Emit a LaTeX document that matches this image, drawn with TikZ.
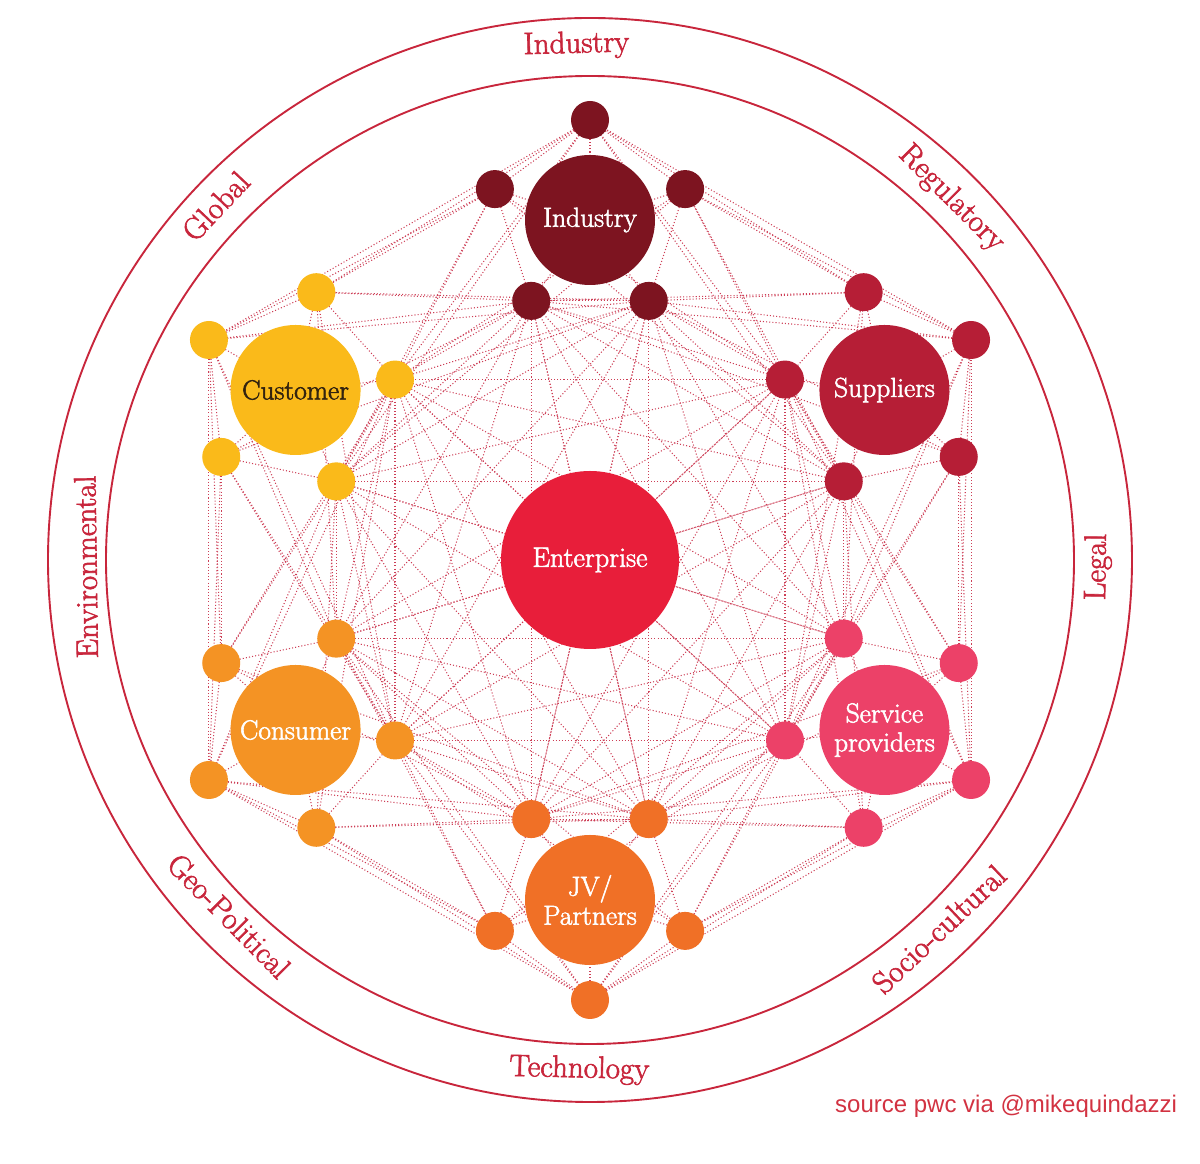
\documentclass[tikz,border=0pt]{standalone}
\usepackage{fontspec}
\newfontfamily\srcfont{Liberation Sans}
\newfontfamily\lblfont{Latin Modern Roman}[FakeBold=2]
\usetikzlibrary{calc}
\definecolor{ringred}{RGB}{200,38,60}
\definecolor{dotred}{RGB}{205,62,86}
\definecolor{srcred}{RGB}{210,50,65}
\definecolor{cInd}{RGB}{125,20,32}
\definecolor{cCus}{RGB}{250,186,26}
\definecolor{cCon}{RGB}{244,147,36}
\definecolor{cJV}{RGB}{240,112,38}
\definecolor{cSer}{RGB}{236,65,104}
\definecolor{cSup}{RGB}{182,30,54}
\definecolor{cEnt}{RGB}{232,30,58}
\definecolor{cusText}{RGB}{50,35,15}
\pgfdeclarelayer{bg}
\pgfsetlayers{bg,main}
\begin{document}
\begin{tikzpicture}[x=1pt,y=1pt,
  bigc/.style={circle, minimum size=130pt, inner sep=0pt, text=white, align=center, font=\lblfont\fontsize{27.5}{29}\selectfont},
  satc/.style={circle, minimum size=38pt, inner sep=0pt},
  ringlab/.style={text=ringred, font=\lblfont\fontsize{31}{31}\selectfont, inner sep=0pt},
  link/.style={draw=dotred, line width=1.05pt, dash pattern=on 1.05pt off 2.1pt},
  ring/.style={draw=ringred, line width=1.9pt}]
\useasboundingbox (0,0) rectangle (1200,1164);
\coordinate (E) at (590,604);
\draw[ring] (E) circle (542);
\draw[ring] (E) circle (484);
% central and cluster nodes
\node[bigc, fill=cEnt, minimum size=178pt, font=\lblfont\fontsize{28}{30}\selectfont] (ent) at (E) {Enterprise};
\node[bigc, fill=cInd] (ind) at ($(E)+(90:340)$) {Industry};
\node[bigc, fill=cCus, text=cusText] (cus) at ($(E)+(150:340)$) {Customer};
\node[bigc, fill=cCon] (con) at ($(E)+(210:340)$) {Consumer};
\node[bigc, fill=cJV] (jv) at ($(E)+(270:340)$) {JV/\\Partners};
\node[bigc, fill=cSer] (ser) at ($(E)+(330:340)$) {Service\\providers};
\node[bigc, fill=cSup] (sup) at ($(E)+(30:340)$) {Suppliers};
% satellites
\foreach \k/\nm/\col/\th in {0/ind/cInd/90, 1/cus/cCus/150, 2/con/cCon/210, 3/jv/cJV/270, 4/ser/cSer/330, 5/sup/cSup/30} {
  \foreach \j in {0,...,4} {
    \pgfmathsetmacro\ang{\th+72*\j}
    \node[satc, fill=\col] (s\k\j) at ($(\nm.center)+(\ang:100)$) {};
  }
}
% connectors
\begin{pgfonlayer}{bg}
\foreach \k/\nm in {0/ind,1/cus,2/con,3/jv,4/ser,5/sup} {
  \foreach \j in {0,...,4} {
    \pgfmathtruncatemacro\jn{mod(\j+1,5)}
    \draw[link] (s\k\j.center) -- (s\k\jn.center);
    \draw[link] (s\k\j.center) -- (\nm.center);
  }
}
\foreach \k in {0,...,5} {
  \pgfmathtruncatemacro\m{mod(\k+1,6)}
  \foreach \p/\q in {0/0,0/4,1/0,1/4} {\draw[link] (s\k\p.center) -- (s\m\q.center);}
  \foreach \p in {2,3} {\foreach \q in {0,...,4} {\draw[link] (s\k\p.center) -- (s\m\q.center);}}
  \foreach \p in {0,1,4} {\foreach \q in {2,3} {\draw[link] (s\k\p.center) -- (s\m\q.center);}}
}
\foreach \k in {0,...,5} {
  \pgfmathtruncatemacro\m{mod(\k+2,6)}
  \foreach \p in {2,3} {\foreach \q in {2,3} {\draw[link] (s\k\p.center) -- (s\m\q.center);}}
}
\foreach \k in {0,1,2} {
  \pgfmathtruncatemacro\m{\k+3}
  \foreach \p in {2,3} {\foreach \q in {2,3} {\draw[link] (s\k\p.center) -- (s\m\q.center);}}
}
\foreach \k in {0,...,5} {\foreach \p in {2,3} {\draw[link] (s\k\p.center) -- (ent.center);}}
\end{pgfonlayer}
% ring labels
\node[ringlab, rotate=1.5] (lInd) at ($(E)+(91.5:515)$) {Industry};
\node[ringlab, rotate=-45] (lReg) at ($(E)+(45:511)$) {Regulatory};
\node[ringlab, rotate=89.2] (lLeg) at ($(E)+(-0.8:508)$) {Legal};
\node[ringlab, rotate=43.4] (lSoc) at ($(E)+(-46.6:508)$) {Socio-cultural};
\node[ringlab, rotate=-1.3] (lTec) at ($(E)+(-91.2:510)$) {Technology};
\node[ringlab, rotate=-45.4] (lGeo) at ($(E)+(224.6:507)$) {Geo-Political};
\node[ringlab, rotate=90.8] (lEnv) at ($(E)+(180.8:504)$) {Environmental};
\node[ringlab, rotate=46.6] (lGlo) at ($(E)+(136.6:515)$) {Global};
\node[anchor=base west, text=srcred, inner sep=0pt, font=\srcfont\fontsize{24}{24}\selectfont] (src) at (835,51) {source pwc via @mikequindazzi};
\end{tikzpicture}
\end{document}
